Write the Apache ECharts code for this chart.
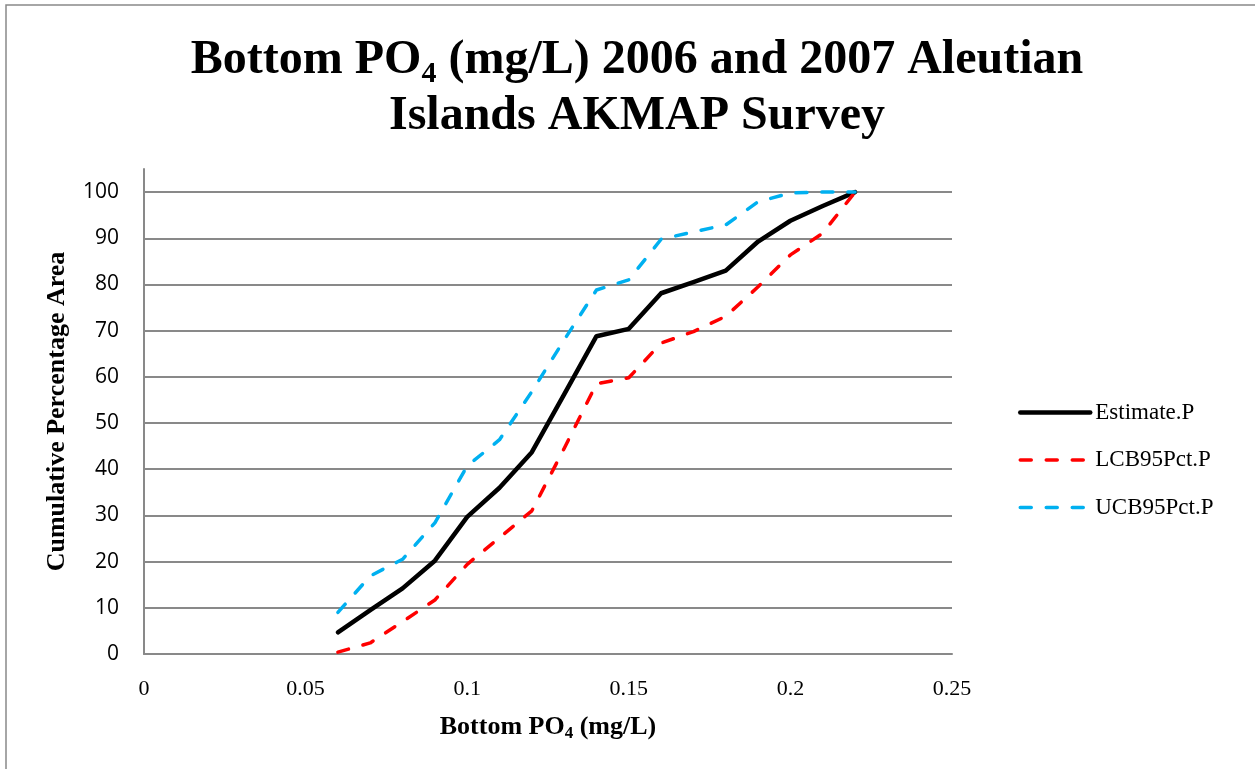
<!DOCTYPE html>
<html>
<head>
<meta charset="utf-8">
<script src="https://cdn.jsdelivr.net/npm/echarts@6/dist/echarts.min.js"></script>
<style>html,body{margin:0;padding:0;background:#fff}#c{width:1255px;height:769px}</style>
</head>
<body>
<div id="c"></div>
<script>
const xValues = [0.06, 0.07, 0.08, 0.09, 0.10, 0.11, 0.12, 0.13, 0.14, 0.15, 0.16, 0.17, 0.18, 0.19, 0.20, 0.21, 0.22];
const estimateP = [4.7, 9.5, 14.2, 20.2, 29.7, 36.0, 43.7, 56.2, 68.8, 70.4, 78.1, 80.5, 83.0, 89.3, 93.8, 97.0, 100];
const lcb95P   = [0.4, 2.4, 7.0, 11.7, 19.4, 25.2, 31.0, 44.5, 58.5, 59.8, 67.3, 69.8, 73.1, 79.5, 86.4, 91.1, 100];
const ucb95P   = [9.0, 16.9, 20.5, 28.4, 40.7, 46.4, 56.8, 68.0, 78.8, 81.0, 89.8, 91.4, 92.9, 97.9, 99.8, 100, 100];
const seriesNames = ['Estimate.P', 'LCB95Pct.P', 'UCB95Pct.P'];
const xTicks = [0, 0.05, 0.1, 0.15, 0.2, 0.25];

const pair = (ys) => xValues.map((x, i) => [x, ys[i]]);
const serif = '"Liberation Serif", "Times New Roman", serif';
const grayLine = '#898989';
const colors = ['#000000', '#FF0000', '#00B0F0'];
const lineStyles = [
  {color: colors[0], width: 4.5, type: 'solid', cap: 'round', join: 'round'},
  {color: colors[1], width: 3.5, type: [11, 15], cap: 'round', join: 'round'},
  {color: colors[2], width: 3.5, type: [11, 15], cap: 'round', join: 'round'}
];

const chart = echarts.init(document.getElementById('c'), null, {renderer: 'canvas'});
chart.setOption({
  animation: false,
  backgroundColor: '#fff',
  graphic: [{
    type: 'rect', shape: {x: 6, y: 5, width: 1260, height: 780},
    style: {fill: 'none', stroke: grayLine, lineWidth: 1.5}, silent: true
  }],
  title: {
    text: '{t|Bottom PO}{s|4}{t| (mg/L) 2006 and 2007 Aleutian}\n{t|Islands AKMAP Survey}',
    left: 632, top: 28, textAlign: 'center',
    textStyle: {
      rich: {
        t: {fontFamily: serif, fontWeight: 'bold', fontSize: 48, lineHeight: 56, color: '#000'},
        s: {fontFamily: serif, fontWeight: 'bold', fontSize: 30, lineHeight: 22, verticalAlign: 'bottom', color: '#000'}
      }
    }
  },
  grid: {left: 144, right: 303, top: 169, bottom: 115, containLabel: false},
  legend: {
    orient: 'vertical', left: 1013, top: 396,
    itemWidth: 70, itemHeight: 14, itemGap: 24.5,
    itemStyle: {opacity: 0, borderWidth: 0},
    textStyle: {fontFamily: serif, fontSize: 23, color: '#000', lineHeight: 23},
    data: seriesNames.map((n, i) => ({name: n, lineStyle: lineStyles[i], itemStyle: {opacity: 0, borderWidth: 0}}))
  },
  xAxis: {
    type: 'value', min: 0, max: 0.25, interval: 0.05,
    name: '{t|Bottom PO}{s|4}{t| (mg/L)}', nameLocation: 'middle', nameGap: 58,
    nameTextStyle: {
      rich: {
        t: {fontFamily: serif, fontWeight: 'bold', fontSize: 26, lineHeight: 30, color: '#000'},
        s: {fontFamily: serif, fontWeight: 'bold', fontSize: 17, lineHeight: 13, verticalAlign: 'bottom', color: '#000'}
      }
    },
    axisLine: {show: true, lineStyle: {color: grayLine, width: 2}},
    axisTick: {show: false},
    splitLine: {show: false},
    axisLabel: {fontFamily: serif, fontSize: 22, color: '#000', margin: 24,
      formatter: (v) => xTicks.includes(+v.toFixed(2)) ? String(+v.toFixed(2)) : ''}
  },
  yAxis: {
    type: 'value', min: 0, max: 105, interval: 10,
    name: 'Cumulative Percentage Area', nameLocation: 'middle', nameGap: 74, nameRotate: 90,
    nameTextStyle: {fontFamily: serif, fontWeight: 'bold', fontSize: 26, color: '#000'},
    axisLine: {show: true, lineStyle: {color: grayLine, width: 2}},
    axisTick: {show: false},
    splitLine: {show: true, showMaxLine: false, lineStyle: {color: grayLine, width: 2}},
    axisLabel: {fontFamily: '"Open Sans", sans-serif', fontSize: 21, color: '#000', margin: 25, showMaxLabel: false,
      formatter: (v) => (v % 10 === 0 && v <= 100) ? String(v) : ''}
  },
  series: [
    {name: seriesNames[0], type: 'line', data: pair(estimateP), showSymbol: false, symbol: 'none',
      lineStyle: lineStyles[0], itemStyle: {color: colors[0]}},
    {name: seriesNames[1], type: 'line', data: pair(lcb95P), showSymbol: false, symbol: 'none',
      lineStyle: lineStyles[1], itemStyle: {color: colors[1]}},
    {name: seriesNames[2], type: 'line', data: pair(ucb95P), showSymbol: false, symbol: 'none',
      lineStyle: lineStyles[2], itemStyle: {color: colors[2]}}
  ]
});
</script>
</body>
</html>
